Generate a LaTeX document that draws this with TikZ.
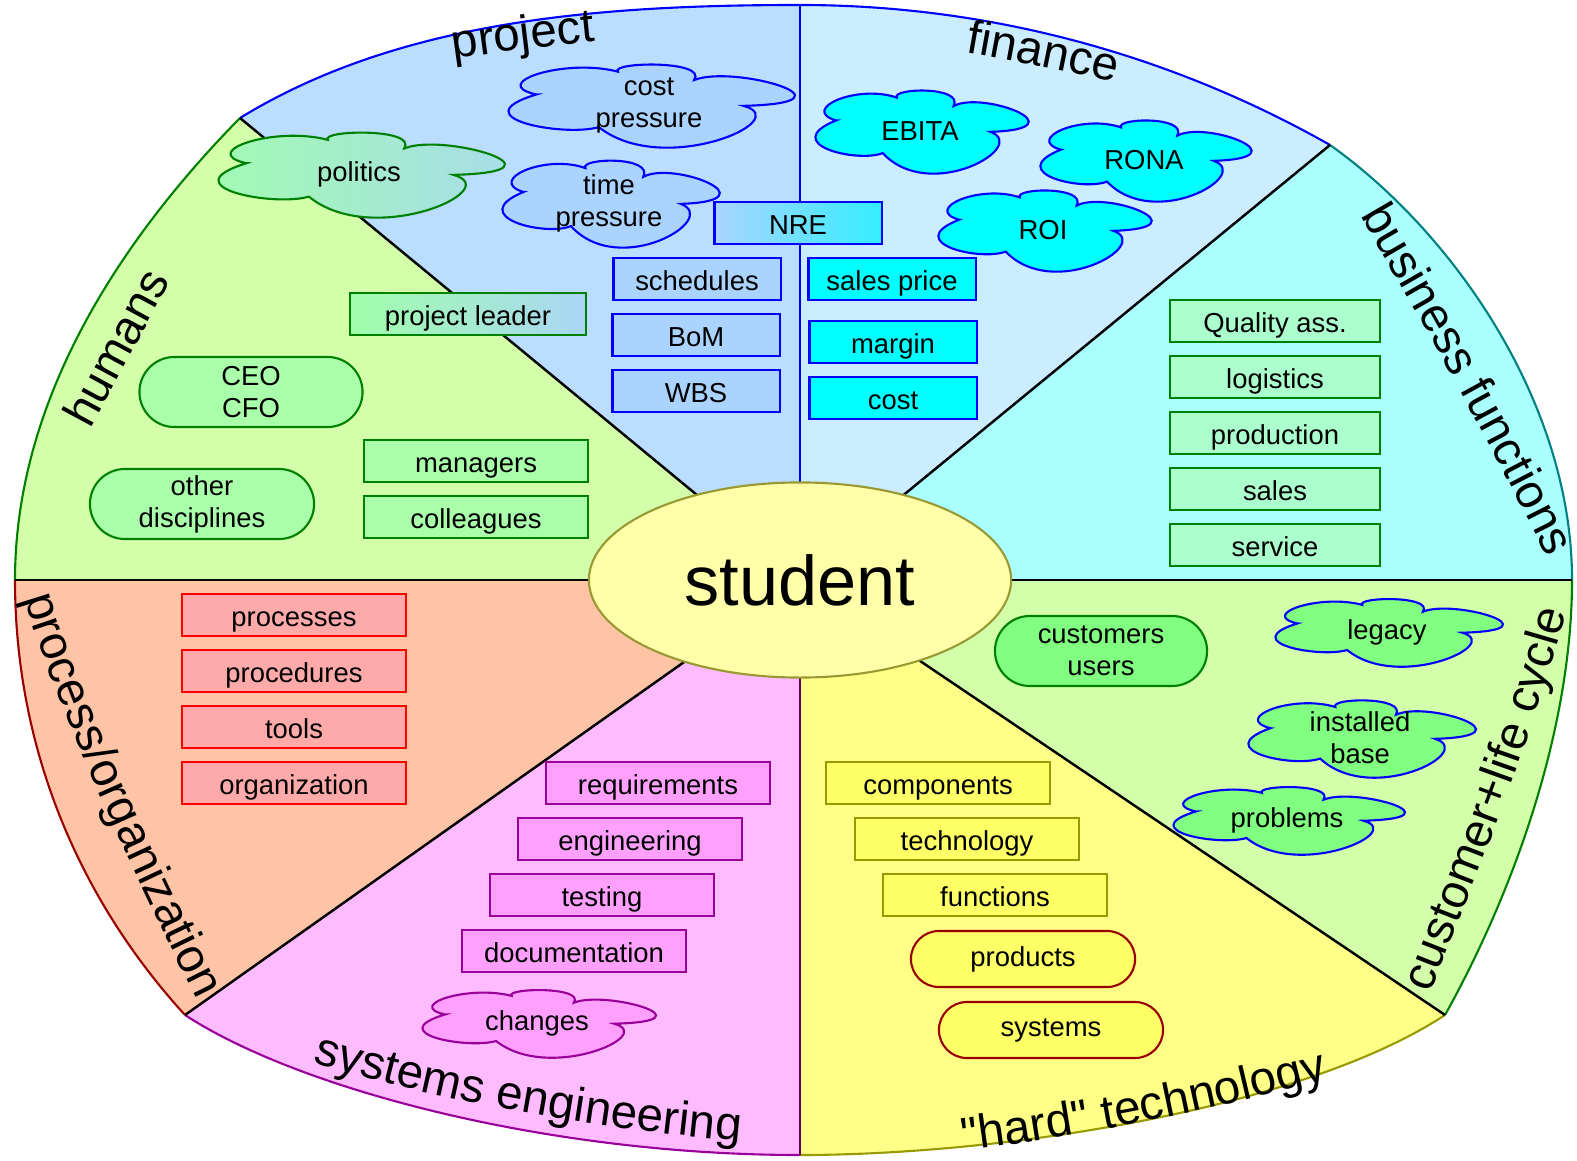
\documentclass[tikz,border=0pt]{standalone}
\usepackage{fontspec}
\setmainfont{Liberation Sans}[Ligatures=TeXOff]
\usetikzlibrary{shapes.geometric,decorations.text}

\definecolor{projfill}{RGB}{187,221,255}
\definecolor{finfill}{RGB}{204,236,255}
\definecolor{busfill}{RGB}{170,255,255}
\definecolor{custfill}{RGB}{212,255,170}
\definecolor{hardfill}{RGB}{255,255,136}
\definecolor{sysfill}{RGB}{255,187,255}
\definecolor{procfill}{RGB}{255,196,166}
\definecolor{studfill}{RGB}{255,255,170}
\definecolor{studline}{RGB}{153,153,51}
\definecolor{projbox}{RGB}{170,212,255}
\definecolor{finbox}{RGB}{0,255,255}
\definecolor{humbox}{RGB}{170,255,170}
\definecolor{busbox}{RGB}{170,255,204}
\definecolor{custbox}{RGB}{128,255,128}
\definecolor{hardbox}{RGB}{255,255,102}
\definecolor{sysbox}{RGB}{255,160,255}
\definecolor{procbox}{RGB}{255,170,170}
\definecolor{darkgreen}{RGB}{0,128,0}
\definecolor{olive}{RGB}{153,153,0}
\definecolor{darkred}{RGB}{153,0,0}
\definecolor{purple}{RGB}{153,0,153}
\definecolor{nreright}{RGB}{51,238,255}
\definecolor{leaderleft}{RGB}{160,255,170}
\definecolor{leaderright}{RGB}{170,214,245}

\newcommand\boxfont{\fontsize{7.8}{9.1}\selectfont}
\newcommand\sectorfont{\fontsize{13.5}{15}\selectfont}
\newcommand\studentfont{\fontsize{20}{24}\selectfont}
% fill, border, from, control, control, to
\newcommand\sector[6]{%
  \fill[#1] (c) -- (#3) .. controls #4 and #5 .. (#6) -- cycle;
  \draw[#2, line width=0.6pt] (#3) .. controls #4 and #5 .. (#6);}
\newcommand\arclabel[2]{\path[decorate, decoration={text along path,
  text align=center, text={|\sectorfont|#1}}] #2;}
% cloud outline in a -1..1 frame
\newcommand\cloudpath{(-0.80,0.245) .. controls (-1.15,0.5) and (-0.6,1.1) .. (-0.22,0.775)
  .. controls (-0.28,1.0) and (0.42,1.05) .. (0.32,0.58)
  .. controls (0.6,0.95) and (1.55,0.05) .. (0.67,-0.02)
  .. controls (1.05,-0.35) and (0.1,-1.7) .. (-0.356,-0.514)
  .. controls (-0.6,-0.75) and (-1.35,-0.3) .. cycle}
% style, name, centre, half width, half height, text
\newcommand\puff[6]{%
  \draw[#1, shift={(#3)}, xscale=#4, yscale=#5] \cloudpath;
  \node[cloudtext] (#2) at (#3) {#6};}

\tikzset{
  base/.style={draw, line width=0.6pt, inner sep=0pt, align=center,
    minimum width=2.24cm, minimum height=0.42cm, font=\boxfont},
  box/.style={base, text height=1.5ex, text depth=0.25ex},
  pill/.style={base, rounded corners=0.35cm, minimum height=0.7cm},
  cloudtext/.style={inner sep=0pt, align=center, font=\boxfont},
  projbox/.style={box, fill=projbox, draw=blue, minimum width=1.67cm},
  finbox/.style={box, fill=finbox, draw=blue, minimum width=1.67cm},
  nrebox/.style={box, draw=blue, minimum width=1.67cm, left color=projbox, right color=nreright},
  projcloud/.style={fill=projbox, draw=blue, line width=0.6pt},
  fincloud/.style={fill=finbox, draw=blue, line width=0.6pt},
  humbox/.style={box, fill=humbox, draw=darkgreen},
  humpill/.style={pill, fill=humbox, draw=darkgreen},
  leaderbox/.style={box, draw=darkgreen, minimum width=2.36cm, left color=leaderleft, right color=leaderright},
  humcloud/.style={draw=darkgreen, line width=0.6pt, left color=leaderleft, right color=leaderright},
  busbox/.style={box, fill=busbox, draw=darkgreen, minimum width=2.1cm},
  custpill/.style={pill, fill=custbox, draw=darkgreen, minimum width=2.12cm},
  custcloud/.style={fill=custbox, draw=blue, line width=0.6pt},
  hardbox/.style={box, fill=hardbox, draw=olive},
  hardpill/.style={pill, fill=hardbox, draw=darkred, minimum height=0.56cm, rounded corners=0.28cm},
  sysbox/.style={box, fill=sysbox, draw=purple},
  syscloud/.style={fill=sysbox, draw=purple, line width=0.6pt},
  procbox/.style={box, fill=procbox, draw=red}
}

\begin{document}
\begin{tikzpicture}[x=0.01cm, y=0.01cm]
  \useasboundingbox (0,0) rectangle (1577,1160);

  %%%%% SECTORS %%%%%
  \coordinate (c) at (800,580);
  \coordinate (tl) at (240,1042);
  \coordinate (t) at (800,1155);
  \coordinate (tr) at (1330,1015);
  \coordinate (r) at (1572,580);
  \coordinate (br) at (1445,145);
  \coordinate (b) at (800,5);
  \coordinate (bl) at (185,145);
  \coordinate (l) at (15,580);

  \sector{projfill}{blue}{tl}{(400,1140)}{(600,1155)}{t}
  \sector{finfill}{blue}{t}{(1000,1155)}{(1180,1100)}{tr}
  \sector{busfill}{teal}{tr}{(1450,930)}{(1572,760)}{r}
  \sector{custfill}{darkgreen}{r}{(1572,440)}{(1520,280)}{br}
  \sector{hardfill}{olive}{br}{(1300,50)}{(1000,5)}{b}
  \sector{sysfill}{purple}{b}{(550,5)}{(300,70)}{bl}
  \sector{procfill}{darkred}{bl}{(80,260)}{(15,410)}{l}
  \sector{custfill}{darkgreen}{l}{(15,760)}{(120,920)}{tl}

  \draw[line width=0.7pt] (tl) -- (c);
  \draw[line width=0.7pt, blue] (t) -- (c);
  \draw[line width=0.7pt] (tr) -- (c);
  \draw[line width=0.7pt] (r) -- (c);
  \draw[line width=0.7pt] (br) -- (c);
  \draw[line width=0.7pt, purple!60!black] (b) -- (c);
  \draw[line width=0.7pt] (bl) -- (c);
  \draw[line width=0.7pt] (l) -- (c);

  \node[ellipse, draw=studline, fill=studfill, line width=0.6pt, inner sep=0pt,
    minimum width=4.22cm, minimum height=1.95cm, font=\studentfont] (student) at (c) {student};

  %%%%% SECTOR LABELS %%%%%
  \arclabel{project}{(370,1088) .. controls (470,1105) and (570,1118) .. (680,1126)}
  \arclabel{finance}{(890,1120) .. controls (990,1105) and (1090,1085) .. (1190,1060)}
  \arclabel{business functions}{(1348,965) .. controls (1413,855) and (1493,715) .. (1558,580)}
  \arclabel{customer+life cycle}{(1422,145) .. controls (1472,275) and (1532,415) .. (1572,570)}
  \arclabel{"hard" technology}{(905,2) .. controls (1045,17) and (1215,47) .. (1385,97)}
  \arclabel{systems engineering}{(258,116) .. controls (408,62) and (608,27) .. (798,14)}
  \arclabel{process/organization}{(18,584) .. controls (48,464) and (154,244) .. (208,139)}
  \arclabel{humans}{(63,680) -- (198,930)}

  %%%%% PROJECT %%%%%
  \puff{projcloud}{costpressure}{649,1055}{141}{43}{cost\\pressure}
  \puff{projcloud}{timepressure}{609,957}{107}{45}{time\\pressure}
  \node[projbox] (schedules) at (697,881) {schedules};
  \node[projbox] (bom) at (696,825) {BoM};
  \node[projbox] (wbs) at (696,769) {WBS};
  \node[nrebox] (nre) at (798,937) {NRE};

  %%%%% FINANCE %%%%%
  \puff{fincloud}{ebita}{920,1029}{105}{43}{EBITA}
  \puff{fincloud}{rona}{1144,1000}{104}{42}{RONA}
  \puff{fincloud}{roi}{1043,930}{105}{42}{ROI}
  \node[finbox] (salesprice) at (892,881) {sales price};
  \node[finbox] (margin) at (893,818) {margin};
  \node[finbox] (cost) at (893,762) {cost};

  %%%%% HUMANS %%%%%
  \puff{humcloud}{politics}{359,986}{141}{44}{politics}
  \node[leaderbox] (leader) at (468,846) {project leader};
  \node[humpill, minimum width=2.23cm] (ceo) at (251,768) {CEO\\CFO};
  \node[humpill] (other) at (202,656) {other\\disciplines};
  \node[humbox] (managers) at (476,699) {managers};
  \node[humbox] (colleagues) at (476,643) {colleagues};

  %%%%% BUSINESS FUNCTIONS %%%%%
  \node[busbox] (quality) at (1275,839) {Quality ass.};
  \node[busbox] (logistics) at (1275,783) {logistics};
  \node[busbox] (production) at (1275,727) {production};
  \node[busbox] (sales) at (1275,671) {sales};
  \node[busbox] (service) at (1275,615) {service};

  %%%%% CUSTOMER %%%%%
  \node[custpill] (customers) at (1101,509) {customers\\users};
  \puff{custcloud}{legacy}{1387,528}{112}{35}{legacy}
  \puff{custcloud}{installed}{1360,422}{112}{40}{installed\\base}
  \puff{custcloud}{problems}{1287,340}{114}{35}{problems}

  %%%%% HARD TECHNOLOGY %%%%%
  \node[hardbox] (components) at (938,377) {components};
  \node[hardbox] (technology) at (967,321) {technology};
  \node[hardbox] (functions) at (995,265) {functions};
  \node[hardpill] (products) at (1023,201) {products};
  \node[hardpill] (systems) at (1051,130) {systems};

  %%%%% SYSTEMS ENGINEERING %%%%%
  \node[sysbox] (requirements) at (658,377) {requirements};
  \node[sysbox] (engineering) at (630,321) {engineering};
  \node[sysbox] (testing) at (602,265) {testing};
  \node[sysbox] (documentation) at (574,209) {documentation};
  \puff{syscloud}{changes}{537,137}{115}{35}{changes}

  %%%%% PROCESS %%%%%
  \node[procbox] (processes) at (294,545) {processes};
  \node[procbox] (procedures) at (294,489) {procedures};
  \node[procbox] (tools) at (294,433) {tools};
  \node[procbox] (organization) at (294,377) {organization};
\end{tikzpicture}
\end{document}
